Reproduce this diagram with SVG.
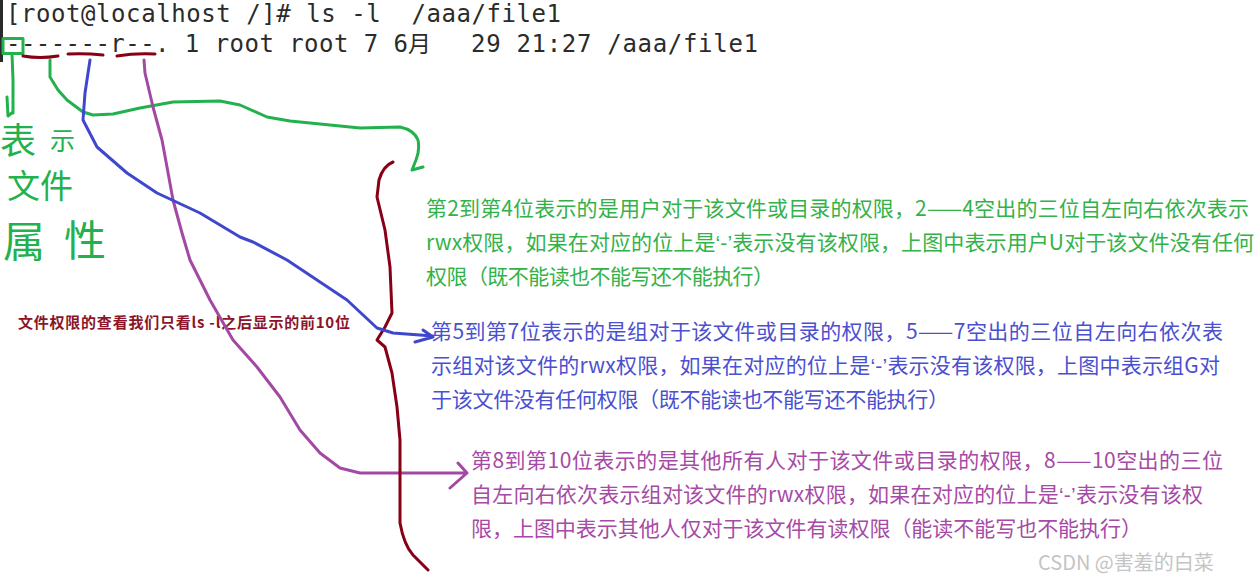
<svg xmlns="http://www.w3.org/2000/svg" width="1255" height="585" viewBox="0 0 1255 585">
<style>
.term{font-family:"DejaVu Sans Mono","Liberation Mono",monospace;font-size:24px;fill:#2b2b2b;white-space:pre}
.cjk{font-family:"Noto Sans CJK SC","Noto Sans",sans-serif}
.para{font-family:"Noto Sans CJK SC","Noto Sans",sans-serif;font-size:21px}
.q{font-family:"Liberation Sans",sans-serif}
.g{fill:#33b24a}
.b{fill:#4b50cf}
.p{fill:#a64aa6}
.ln{fill:none;stroke-width:3;stroke-linecap:round;stroke-linejoin:round}
.green{stroke:#22b14c}
.blue{stroke:#3f48cc}
.purple{stroke:#a349a4}
.red{stroke:#880015}
</style>
<rect width="1255" height="585" fill="#ffffff"/>
<g id="terminal">
<rect x="0" y="0" width="3" height="62" fill="#2a2a2a"/>
<text class="term" x="6" y="22" xml:space="preserve" textLength="555" lengthAdjust="spacing">[root@localhost /]# ls -l  /aaa/file1</text>
<text class="term" x="6" y="52" textLength="402" lengthAdjust="spacing">-------r--. 1 root root 7 6</text>
<text x="408" y="52" style="font-family:'Noto Sans CJK SC',sans-serif;font-size:23px;fill:#2b2b2b">月</text>
<text class="term" x="471" y="52" textLength="287" lengthAdjust="spacing">29 21:27 /aaa/file1</text>
</g>
<g id="marks">
<rect x="3" y="38.5" width="20" height="15" class="ln green"/>
<path class="ln red" d="M23,56 Q40,59 58,56"/>
<path class="ln red" d="M68,54 Q85,53 103,55"/>
<path class="ln red" d="M117,56 Q135,53 155,54"/>
</g>
<g id="label-attr" class="cjk" fill="#22b14c">
<text x="0" y="154" style="font-size:36px">表</text>
<text x="50" y="150" style="font-size:25px">示</text>
<text x="7" y="198" style="font-size:33px">文件</text>
<text x="3" y="257" style="font-size:42px">属</text>
<text x="64" y="256" style="font-size:42px">性</text>
</g>
<g id="note-top10">
<text class="cjk" x="18" y="328" textLength="332" lengthAdjust="spacing" style="font-size:15px;font-weight:bold;fill:#8b1428">文件权限的查看我们只看ls -l之后显示的前10位</text>
</g>
<g id="node-user" class="para g">
<text x="426" y="216" textLength="823" lengthAdjust="spacing">第2到第4位表示的是用户对于该文件或目录的权限，2——4空出的三位自左向右依次表示</text>
<text x="426" y="250" textLength="828" lengthAdjust="spacing">rwx权限，如果在对应的位上是<tspan class="q">‘-’</tspan>表示没有该权限，上图中表示用户U对于该文件没有任何</text>
<text x="426" y="284" textLength="348" lengthAdjust="spacing">权限（既不能读也不能写还不能执行）</text>
</g>
<g id="node-group" class="para b">
<text x="431" y="339" textLength="792" lengthAdjust="spacing">第5到第7位表示的是组对于该文件或目录的权限，5——7空出的三位自左向右依次表</text>
<text x="431" y="373" textLength="789" lengthAdjust="spacing">示组对该文件的rwx权限，如果在对应的位上是<tspan class="q">‘-’</tspan>表示没有该权限，上图中表示组G对</text>
<text x="431" y="407" textLength="518" lengthAdjust="spacing">于该文件没有任何权限（既不能读也不能写还不能执行）</text>
</g>
<g id="node-other" class="para p">
<text x="471" y="468" textLength="752" lengthAdjust="spacing">第8到第10位表示的是其他所有人对于该文件或目录的权限，8——10空出的三位</text>
<text x="471" y="502" textLength="732" lengthAdjust="spacing">自左向右依次表示组对该文件的rwx权限，如果在对应的位上是<tspan class="q">‘-’</tspan>表示没有该权</text>
<text x="471" y="536" textLength="671" lengthAdjust="spacing">限，上图中表示其他人仅对于该文件有读权限（能读不能写也不能执行）</text>
</g>
<g id="watermark">
<text class="cjk" x="1038" y="570" style="font-size:20px;fill:#c4c4c4">CSDN @害羞的白菜</text>
</g>
<g id="connectors">
<path class="ln green" d="M12,54 L13,80 L13,113 M7,97 L8,116 L13,112"/>
<path class="ln green" d="M50,60 L50,77 L58,90 L67,100 L83,112 L93,115 L113,114 L140,108 L173,102 L220,101 L240,105 L267,117 L290,121 L360,128 L400,127 Q414,130 418,140 Q420,150 416,160 L412,170 L423,167"/>
<path class="ln purple" d="M144,60 L145,73 L153,107 L162,140 L167,167 L173,200 L182,233 L190,260 L210,300 L233,340 L257,367 L280,397 L300,430 L320,453 L340,468 L360,473 L467,473 M458,463 L467,473 L450,488"/>
<path class="ln red" d="M393,162 Q383,166 379,180 L377,197 L385,230 L390,267 L392,313 L385,327 L377,340 L385,347 L392,373 L397,407 L400,440 L400,523 Q404,545 413,555 L428,570"/>
<path class="ln blue" d="M90,60 L85,93 L83,120 L97,147 L127,173 L157,193 L200,213 L240,237 L253,242 L287,260 L317,280 L347,300 L377,328 L393,333 L433,336 M423,330 L433,337 L415,342"/>
</g>
</svg>
